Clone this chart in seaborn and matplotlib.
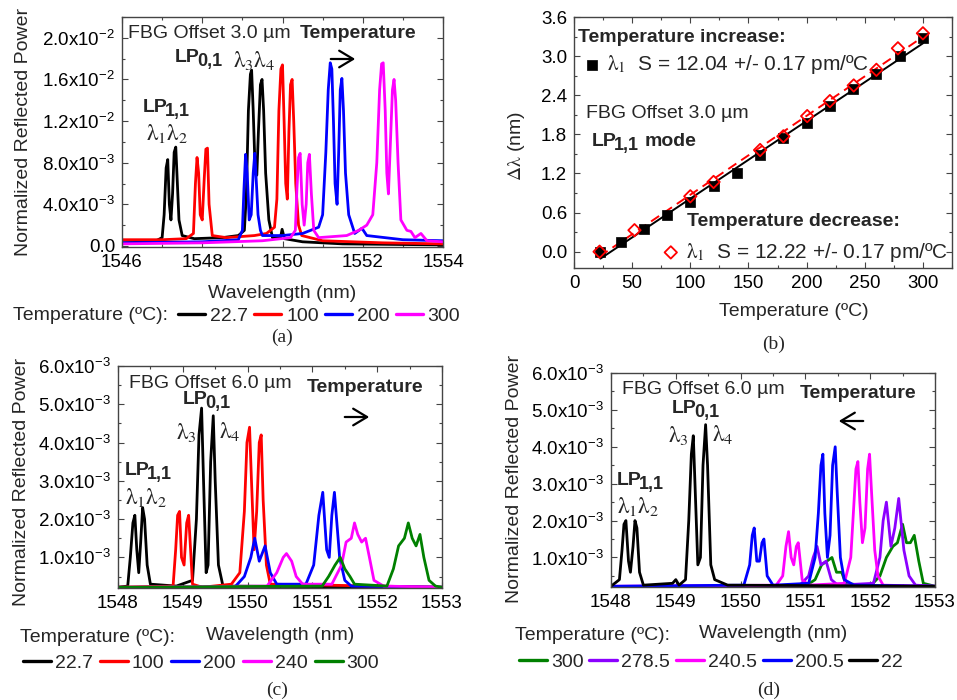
import numpy as np
import pandas as pd
import seaborn as sns
import matplotlib.pyplot as plt
from matplotlib.patches import FancyArrowPatch
from matplotlib.ticker import MultipleLocator, FuncFormatter

sns.set_theme(style="ticks")
plt.rcParams["font.family"] = ["Liberation Sans", "DejaVu Sans"]
plt.rcParams["mathtext.fontset"] = "custom"
plt.rcParams["mathtext.rm"] = "Liberation Sans"
plt.rcParams["mathtext.it"] = "Liberation Sans:italic"
plt.rcParams["mathtext.bf"] = "Liberation Sans:bold"

# ---------------- (a) FBG offset 3.0 um, heating ----------------
a_temps = ["22.7", "100", "200", "300"]
a_colors = ["black", "red", "blue", "magenta"]
a_wl_227 = [1546.0, 1546.8, 1547.0, 1547.05, 1547.10, 1547.14, 1547.18, 1547.22, 1547.26, 1547.30, 1547.34,
            1547.38, 1547.42, 1547.5, 1547.8, 1548.5, 1548.9, 1549.05, 1549.10, 1549.15, 1549.20, 1549.23,
            1549.27, 1549.32, 1549.36, 1549.40, 1549.45, 1549.49, 1549.53, 1549.58, 1549.66, 1549.75,
            1549.95, 1549.99, 1550.05, 1550.5, 1551.5, 1554.0]
a_pw_227 = [0.0003, 0.0004, 0.0008, 0.0030, 0.0075, 0.0083, 0.0040, 0.0025, 0.0050, 0.0090, 0.0095,
            0.0060, 0.0025, 0.0010, 0.0007, 0.0008, 0.0010, 0.0015, 0.0050, 0.0130, 0.0165, 0.0169,
            0.0130, 0.0070, 0.0068, 0.0110, 0.0155, 0.0160, 0.0130, 0.0070, 0.0025, 0.0008,
            0.0008, 0.0016, 0.0007, 0.0004, 0.0002, 0.0001]
a_wl_100 = [1546.0, 1547.0, 1547.6, 1547.78, 1547.83, 1547.87, 1547.91, 1547.95, 1548.0, 1548.05, 1548.09,
            1548.13, 1548.17, 1548.25, 1548.6, 1549.3, 1549.6, 1549.8, 1549.86, 1549.91, 1549.96, 1550.00,
            1550.04, 1550.08, 1550.12, 1550.16, 1550.20, 1550.24, 1550.28, 1550.33, 1550.40, 1550.48,
            1551.0, 1552.5, 1554.0]
a_pw_100 = [0.0006, 0.0006, 0.0007, 0.0012, 0.0060, 0.0085, 0.0070, 0.0030, 0.0025, 0.0065, 0.0093,
            0.0094, 0.0040, 0.0010, 0.0008, 0.0010, 0.0012, 0.0018, 0.0045, 0.0130, 0.0170, 0.0174,
            0.0120, 0.0060, 0.0045, 0.0110, 0.0155, 0.0160, 0.0120, 0.0060, 0.0020, 0.0010,
            0.0005, 0.0003, 0.0002]
a_wl_200 = [1546.0, 1548.0, 1548.9, 1549.0, 1549.04, 1549.08, 1549.12, 1549.17, 1549.22, 1549.27, 1549.31,
            1549.35, 1549.39, 1549.45, 1549.5, 1550.0, 1550.5, 1550.9, 1551.0, 1551.08, 1551.14, 1551.19,
            1551.23, 1551.27, 1551.31, 1551.36, 1551.40, 1551.44, 1551.48, 1551.52, 1551.57, 1551.65,
            1551.8, 1551.98, 1552.1, 1553.0, 1554.0]
a_pw_200 = [0.0003, 0.0004, 0.0006, 0.0015, 0.0055, 0.0088, 0.0070, 0.0025, 0.0030, 0.0070, 0.0089,
            0.0060, 0.0030, 0.0015, 0.0010, 0.0010, 0.0012, 0.0018, 0.0030, 0.0090, 0.0150, 0.0176,
            0.0170, 0.0120, 0.0060, 0.0040, 0.0090, 0.0150, 0.0161, 0.0130, 0.0070, 0.0030,
            0.0012, 0.0017, 0.0010, 0.0006, 0.0005]
a_wl_300 = [1546.0, 1548.0, 1549.5, 1550.2, 1550.32, 1550.36, 1550.40, 1550.44, 1550.49, 1550.54, 1550.59,
            1550.63, 1550.67, 1550.72, 1550.78, 1550.9, 1551.6, 1551.9, 1552.1, 1552.25, 1552.35, 1552.42,
            1552.47, 1552.51, 1552.56, 1552.60, 1552.64, 1552.69, 1552.74, 1552.78, 1552.82, 1552.88,
            1552.95, 1553.1, 1553.2, 1553.3, 1553.45, 1553.6, 1554.0]
a_pw_300 = [0.0002, 0.0003, 0.0005, 0.0008, 0.0015, 0.0055, 0.0085, 0.0089, 0.0040, 0.0020, 0.0040,
            0.0080, 0.0088, 0.0050, 0.0015, 0.0008, 0.0010, 0.0015, 0.0020, 0.0030, 0.0080, 0.0150,
            0.0175, 0.0176, 0.0130, 0.0070, 0.0050, 0.0100, 0.0150, 0.0160, 0.0140, 0.0080,
            0.0025, 0.0015, 0.0014, 0.0008, 0.0012, 0.0005, 0.0004]

# ---------------- (b) wavelength shift of lambda1 ----------------
inc_temp = [22.7, 40, 60, 80, 100, 120, 140, 160, 180, 200, 220, 240, 260, 280, 300]
inc_shift = [0.0, 0.15, 0.35, 0.56, 0.77, 1.01, 1.21, 1.48, 1.74, 1.97, 2.23, 2.49, 2.72, 3.00, 3.28]
dec_temp = [22, 52, 100, 120, 160, 180, 200.5, 220, 240.5, 260, 278.5, 300]
dec_shift = [0.0, 0.33, 0.85, 1.07, 1.56, 1.77, 2.08, 2.31, 2.55, 2.79, 3.12, 3.35]

# ---------------- (c) FBG offset 6.0 um, heating ----------------
c_temps = ["22.7", "100", "200", "240", "300"]
c_colors = ["black", "red", "blue", "magenta", "green"]
c_wl_227 = [1548.0, 1548.15, 1548.19, 1548.23, 1548.26, 1548.29, 1548.32, 1548.35, 1548.38, 1548.41, 1548.45,
            1548.5, 1548.9, 1549.15, 1549.21, 1549.25, 1549.29, 1549.32, 1549.36, 1549.39, 1549.43, 1549.47,
            1549.50, 1549.55, 1549.62, 1553.0]
c_pw_227 = [0.00022, 0.00025, 0.0010, 0.0019, 0.0021, 0.0012, 0.0006, 0.0014, 0.0023, 0.0020, 0.0008,
            0.0003, 0.00025, 0.0004, 0.0020, 0.0042, 0.0049, 0.0030, 0.0006, 0.0008, 0.0035, 0.0047,
            0.0030, 0.0008, 0.00025, 0.00022]
c_wl_100 = [1548.0, 1548.85, 1548.89, 1548.92, 1548.95, 1548.98, 1549.02, 1549.06, 1549.09, 1549.12, 1549.15,
            1549.3, 1549.75, 1549.88, 1549.95, 1549.99, 1550.03, 1550.06, 1550.10, 1550.14, 1550.18, 1550.21,
            1550.24, 1550.29, 1550.35, 1553.0]
c_pw_100 = [0.00022, 0.00025, 0.0012, 0.0021, 0.0022, 0.0010, 0.0008, 0.0019, 0.0021, 0.0012, 0.0003,
            0.00022, 0.0003, 0.0006, 0.0022, 0.0040, 0.0044, 0.0030, 0.0012, 0.0022, 0.0040, 0.0042,
            0.0025, 0.0008, 0.0003, 0.00022]
c_wl_200 = [1548.0, 1549.8, 1549.95, 1550.05, 1550.11, 1550.18, 1550.27, 1550.35, 1550.45, 1550.9, 1551.02,
            1551.10, 1551.16, 1551.22, 1551.26, 1551.30, 1551.34, 1551.42, 1551.5, 1551.6, 1553.0]
c_pw_200 = [0.0002, 0.00022, 0.0005, 0.0010, 0.0015, 0.0009, 0.0013, 0.0006, 0.0003, 0.0003, 0.0008,
            0.0021, 0.0027, 0.0012, 0.0010, 0.0021, 0.0027, 0.0010, 0.0004, 0.00025, 0.00022]
c_wl_240 = [1548.0, 1550.3, 1550.45, 1550.55, 1550.60, 1550.68, 1550.75, 1550.85, 1551.3, 1551.45, 1551.52,
            1551.60, 1551.65, 1551.70, 1551.76, 1551.82, 1551.88, 1551.95, 1552.1, 1553.0]
c_pw_240 = [0.00022, 0.00025, 0.0006, 0.0010, 0.0011, 0.0009, 0.0005, 0.0003, 0.0003, 0.0008, 0.0014,
            0.0015, 0.0019, 0.0016, 0.0014, 0.0015, 0.0010, 0.0004, 0.00025, 0.00022]
c_wl_300 = [1548.0, 1551.15, 1551.25, 1551.35, 1551.43, 1551.50, 1551.58, 1551.65, 1552.15, 1552.25, 1552.33,
            1552.42, 1552.48, 1552.54, 1552.60, 1552.66, 1552.72, 1552.8, 1552.9, 1553.0]
c_pw_300 = [0.00022, 0.00025, 0.0005, 0.0008, 0.0010, 0.0007, 0.0005, 0.0003, 0.00025, 0.0007, 0.0013,
            0.0015, 0.0019, 0.0015, 0.0013, 0.0016, 0.0010, 0.0004, 0.00025, 0.00022]

# ---------------- (d) FBG offset 6.0 um, cooling ----------------
d_temps = ["300", "278.5", "240.5", "200.5", "22"]
d_colors = ["green", "#8B00FF", "magenta", "blue", "black"]
d_wl_300 = [1548.0, 1551.0, 1551.15, 1551.25, 1551.33, 1551.41, 1551.48, 1551.56, 1551.62, 1552.0, 1552.15,
            1552.25, 1552.35, 1552.42, 1552.50, 1552.56, 1552.62, 1552.68, 1552.75, 1552.82, 1553.0]
d_pw_300 = [0.0002, 0.00022, 0.0004, 0.0008, 0.0009, 0.0010, 0.0006, 0.0006, 0.0003, 0.00022, 0.0005,
            0.0010, 0.0013, 0.0014, 0.0019, 0.0014, 0.0014, 0.0016, 0.0009, 0.0003, 0.00022]
d_wl_2785 = [1548.0, 1550.9, 1551.05, 1551.12, 1551.18, 1551.24, 1551.32, 1551.40, 1551.5, 1552.05, 1552.15,
             1552.20, 1552.25, 1552.32, 1552.38, 1552.44, 1552.52, 1552.6, 1552.7, 1553.0]
d_pw_2785 = [0.0002, 0.00022, 0.0005, 0.0010, 0.0013, 0.0008, 0.0009, 0.0004, 0.00025, 0.0003, 0.0010,
             0.0020, 0.0025, 0.0013, 0.0018, 0.0026, 0.0012, 0.0005, 0.00025, 0.00022]
d_wl_2405 = [1548.0, 1550.55, 1550.65, 1550.70, 1550.74, 1550.78, 1550.82, 1550.86, 1550.89, 1550.95, 1551.05,
             1551.6, 1551.70, 1551.75, 1551.78, 1551.81, 1551.84, 1551.88, 1551.92, 1551.96, 1551.99, 1552.02,
             1552.07, 1552.12, 1552.2, 1553.0]
d_pw_2405 = [0.00022, 0.00025, 0.0005, 0.0013, 0.0017, 0.0010, 0.0008, 0.0013, 0.0014, 0.0004, 0.00025,
             0.0003, 0.0010, 0.0025, 0.0034, 0.0036, 0.0025, 0.0014, 0.0018, 0.0034, 0.0038, 0.0028,
             0.0012, 0.0005, 0.00025, 0.00022]
d_wl_2005 = [1548.0, 1550.05, 1550.14, 1550.18, 1550.21, 1550.25, 1550.29, 1550.33, 1550.36, 1550.41, 1550.5,
             1551.05, 1551.15, 1551.20, 1551.24, 1551.27, 1551.30, 1551.34, 1551.38, 1551.42, 1551.46, 1551.49,
             1551.54, 1551.6, 1551.75, 1553.0]
d_pw_2005 = [0.00022, 0.00025, 0.0008, 0.0016, 0.0018, 0.0009, 0.0009, 0.0014, 0.0015, 0.0005, 0.00025,
             0.0003, 0.0010, 0.0022, 0.0035, 0.0038, 0.0022, 0.0010, 0.0016, 0.0035, 0.0040, 0.0028,
             0.0010, 0.0004, 0.00025, 0.00022]
d_wl_22 = [1548.0, 1548.13, 1548.17, 1548.20, 1548.23, 1548.27, 1548.30, 1548.34, 1548.37, 1548.40, 1548.44,
           1548.5, 1548.95, 1549.0, 1549.05, 1549.15, 1549.20, 1549.24, 1549.27, 1549.30, 1549.34, 1549.38,
           1549.42, 1549.46, 1549.49, 1549.54, 1549.6, 1549.8, 1553.0]
d_pw_22 = [0.00022, 0.0004, 0.0012, 0.0019, 0.0020, 0.0009, 0.0006, 0.0013, 0.0020, 0.0018, 0.0006,
           0.00025, 0.0003, 0.0004, 0.00025, 0.0004, 0.0020, 0.0038, 0.0043, 0.0028, 0.0008, 0.0010,
           0.0035, 0.0046, 0.0035, 0.0008, 0.0004, 0.00025, 0.00022]

W, H = 957, 700
fig = plt.figure(figsize=(W / 100, H / 100), dpi=100)
renderer = fig.canvas.get_renderer()


def fxy(x, y):
    # pixel position (from top-left) -> figure fraction
    return x / W, 1 - y / H


def add_box(left, top, right, bottom):
    return fig.add_axes([left / W, 1 - bottom / H, (right - left) / W, (bottom - top) / H])


def sci_fmt(v, pos):
    if abs(v) < 1e-12:
        return "0.0"
    e = int(np.floor(np.log10(abs(v)) + 1e-9))
    return rf"{v / 10 ** e:.1f}x10$^{{{e}}}$"


def style_axes(ax, xmaj, xmin, ymaj, ymin):
    ax.xaxis.set_major_locator(MultipleLocator(xmaj))
    ax.xaxis.set_minor_locator(MultipleLocator(xmin))
    ax.yaxis.set_major_locator(MultipleLocator(ymaj))
    ax.yaxis.set_minor_locator(MultipleLocator(ymin))
    ax.tick_params(which="both", direction="in", top=True, right=True, color="#444444",
                   labelcolor="black", labelsize=13.5, pad=5)
    ax.tick_params(which="major", length=4, width=0.8)
    ax.tick_params(which="minor", length=2.2, width=0.8)
    for s in ax.spines.values():
        s.set_linewidth(1.0)
        s.set_color("#444444")


def spectrum(ax, temps, colors, curves):
    df = pd.concat([pd.DataFrame({"wl": wl, "pw": pw, "temp": t})
                    for t, (wl, pw) in zip(temps, curves)], ignore_index=True)
    sns.lineplot(data=df, x="wl", y="pw", hue="temp", hue_order=temps,
                 palette=dict(zip(temps, colors)), estimator=None, sort=False,
                 lw=2.0, ax=ax)
    ax.set_xlabel("")
    ax.set_ylabel("")


def row_legend(ax, x, y, ncol, hl, pad, cs):
    leg = ax.get_legend()
    handles = leg.legend_handles
    labels = [t.get_text() for t in leg.get_texts()]
    leg.remove()
    for h in handles:
        h.set_linewidth(2.4)
    ax.legend(handles, labels, loc="center left", bbox_to_anchor=fxy(x, y),
              bbox_transform=fig.transFigure, ncol=ncol, frameon=False, fontsize=14,
              handlelength=hl, handletextpad=pad, columnspacing=cs,
              borderpad=0, borderaxespad=0)


def label(x, y, s, **kw):
    kw.setdefault("fontsize", 14)
    kw.setdefault("ha", "left")
    kw.setdefault("va", "center")
    return fig.text(*fxy(x, y), s, **kw)


def greek(x, y, s, size=16.5):
    t = label(x, y, s, fontsize=size, va="baseline")
    t.set_math_fontfamily("stix")
    return t


def lp(x, y, sub, tail=""):
    # bold "LP" with a large bold subscript, optional trailing word
    t = label(x, y, "LP", fontweight="bold", va="baseline")
    x1 = t.get_window_extent(renderer).x1
    t = label(x1 - 2.5, y + 4, sub, fontsize=13, fontweight="bold", va="baseline")
    if tail:
        x2 = t.get_window_extent(renderer).x1
        label(x2 + 5, y, tail, fontweight="bold", va="baseline")


def arrow(x0, x1, y):
    fig.add_artist(FancyArrowPatch(
        fxy(x0, y), fxy(x1, y), transform=fig.transFigure,
        arrowstyle="->,head_length=10,head_width=6", lw=1.6, color="black"))


def labels_xy(ax, xlabel, xpos, ylabel, ypos):
    ax.set_xlabel(xlabel, fontsize=14, va="center")
    ax.set_ylabel(ylabel, fontsize=14, va="center")
    ax.xaxis.set_label_coords(*xpos)
    ax.yaxis.set_label_coords(*ypos)


LAM12 = r"$\mathrm{\lambda}_1\mathrm{\lambda}_2$"
LAM34 = r"$\mathrm{\lambda}_3\mathrm{\lambda}_4$"

# ---------------- panel (a) ----------------
ax_a = add_box(122, 17, 443, 247)
spectrum(ax_a, a_temps, a_colors,
         [(a_wl_227, a_pw_227), (a_wl_100, a_pw_100), (a_wl_200, a_pw_200), (a_wl_300, a_pw_300)])
ax_a.set_xlim(1546, 1554)
ax_a.set_ylim(-0.0001, 0.022)
style_axes(ax_a, 2, 1, 0.004, 0.002)
ax_a.yaxis.set_major_formatter(FuncFormatter(sci_fmt))
labels_xy(ax_a, "Wavelength (nm)", (0.5, -0.2), "Normalized Reflected Power", (-0.308, 0.5))
row_legend(ax_a, 178, 316, 4, 1.39, 0.26, 0.31)
label(13, 316, "Temperature (ºC):")
label(128, 33, "FBG Offset 3.0 µm")
label(300, 34, "Temperature", fontweight="bold")
arrow(328, 358, 59)
lp(175, 62, "0,1")
greek(233, 67, LAM34)
lp(143, 112, "1,1")
greek(146, 140, LAM12)
label(282, 337, "(a)", ha="center", family="Liberation Serif")

# ---------------- panel (b) ----------------
ax_b = add_box(574, 17, 952, 268)
df_inc = pd.DataFrame({"T": inc_temp, "d": inc_shift})
df_dec = pd.DataFrame({"T": dec_temp, "d": dec_shift})
sns.regplot(data=df_inc, x="T", y="d", scatter=False, ci=None, ax=ax_b,
            line_kws=dict(color="black", lw=1.4))
sns.regplot(data=df_dec, x="T", y="d", scatter=False, ci=None, ax=ax_b,
            line_kws=dict(color="red", lw=1.4, ls=(0, (5, 3))))
sns.scatterplot(data=df_inc, x="T", y="d", marker="s", s=52, color="black",
                edgecolor="black", linewidth=0.5, ax=ax_b, zorder=3)
sns.scatterplot(data=df_dec, x="T", y="d", marker="D", s=40, ax=ax_b, zorder=4)
h_inc, h_dec = ax_b.collections[0], ax_b.collections[1]
h_dec.set_facecolor("none")
h_dec.set_edgecolor("red")
h_dec.set_linewidth(1.3)
ax_b.set_xlim(0, 325)
ax_b.set_ylim(-0.25, 3.6)
style_axes(ax_b, 50, 25, 0.6, 0.3)
ax_b.yaxis.set_major_formatter(FuncFormatter(lambda v, p: f"{v:.1f}"))
labels_xy(ax_b, "Temperature (ºC)", (0.582, -0.175),
          r"$\mathrm{\Delta\lambda}$ (nm)", (-0.153, 0.486))
ax_b.yaxis.label.set_math_fontfamily("stix")

leg1 = ax_b.legend([h_inc], [r"$\mathrm{\lambda}_1$  S = 12.04 +/- 0.17 pm/ºC"], loc="center left",
                   bbox_to_anchor=fxy(584, 65), bbox_transform=fig.transFigure, frameon=False,
                   fontsize=14, handlelength=0.8, handletextpad=0.4, borderpad=0, borderaxespad=0)
ax_b.add_artist(leg1)
leg2 = ax_b.legend([h_dec], [r"$\mathrm{\lambda}_1$  S = 12.22 +/- 0.17 pm/ºC"], loc="center left",
                   bbox_to_anchor=fxy(663, 252), bbox_transform=fig.transFigure, frameon=False,
                   fontsize=14, handlelength=0.8, handletextpad=0.4, borderpad=0, borderaxespad=0)
for lg in (leg1, leg2):
    for t in lg.get_texts():
        t.set_math_fontfamily("stix")
        t.set_fontsize(15)
label(578, 37, "Temperature increase:", fontweight="bold")
label(687, 222, "Temperature decrease:", fontweight="bold")
label(586, 114, "FBG Offset 3.0 µm")
lp(592, 146, "1,1", tail="mode")
label(774, 344, "(b)", ha="center", family="Liberation Serif")

# ---------------- panel (c) ----------------
ax_c = add_box(118, 366, 442, 588)
spectrum(ax_c, c_temps, c_colors,
         [(c_wl_227, c_pw_227), (c_wl_100, c_pw_100), (c_wl_200, c_pw_200),
          (c_wl_240, c_pw_240), (c_wl_300, c_pw_300)])
ax_c.set_xlim(1548, 1553)
ax_c.set_ylim(0.0002, 0.006)
style_axes(ax_c, 1, 0.5, 0.001, 0.0005)
ax_c.yaxis.set_major_formatter(FuncFormatter(sci_fmt))
labels_xy(ax_c, "Wavelength (nm)", (0.5, -0.212), "Normalized Reflected Power", (-0.299, 0.48))
row_legend(ax_c, 23, 663, 5, 1.44, 0.2, 0.36)
label(20, 638, "Temperature (ºC):")
label(129, 383, "FBG Offset 6.0 µm")
label(307, 388, "Temperature", fontweight="bold")
arrow(342, 372, 417)
lp(183, 404, "0,1")
greek(176, 439, r"$\mathrm{\lambda}_3$")
greek(219, 438, r"$\mathrm{\lambda}_4$")
lp(125, 475, "1,1")
greek(125, 504, LAM12)
label(277, 690, "(c)", ha="center", family="Liberation Serif")

# ---------------- panel (d) ----------------
ax_d = add_box(611, 373, 935, 587)
spectrum(ax_d, d_temps, d_colors,
         [(d_wl_300, d_pw_300), (d_wl_2785, d_pw_2785), (d_wl_2405, d_pw_2405),
          (d_wl_2005, d_pw_2005), (d_wl_22, d_pw_22)])
ax_d.set_xlim(1548, 1553)
ax_d.set_ylim(0.0002, 0.006)
style_axes(ax_d, 1, 0.5, 0.001, 0.0005)
ax_d.yaxis.set_major_formatter(FuncFormatter(sci_fmt))
labels_xy(ax_d, "Wavelength (nm)", (0.5, -0.215), "Normalized Reflected Power", (-0.299, 0.505))
row_legend(ax_d, 519, 662, 5, 1.44, 0.2, 0.3)
label(515, 635, "Temperature (ºC):")
label(622, 389, "FBG Offset 6.0 µm")
label(800, 393, "Temperature", fontweight="bold")
arrow(866, 836, 421)
lp(672, 413, "0,1")
greek(668, 442, r"$\mathrm{\lambda}_3$")
greek(712, 441, r"$\mathrm{\lambda}_4$")
lp(617, 485, "1,1")
greek(617, 513, LAM12)
label(769, 690, "(d)", ha="center", family="Liberation Serif")

fig.savefig("out.png", dpi=100)
